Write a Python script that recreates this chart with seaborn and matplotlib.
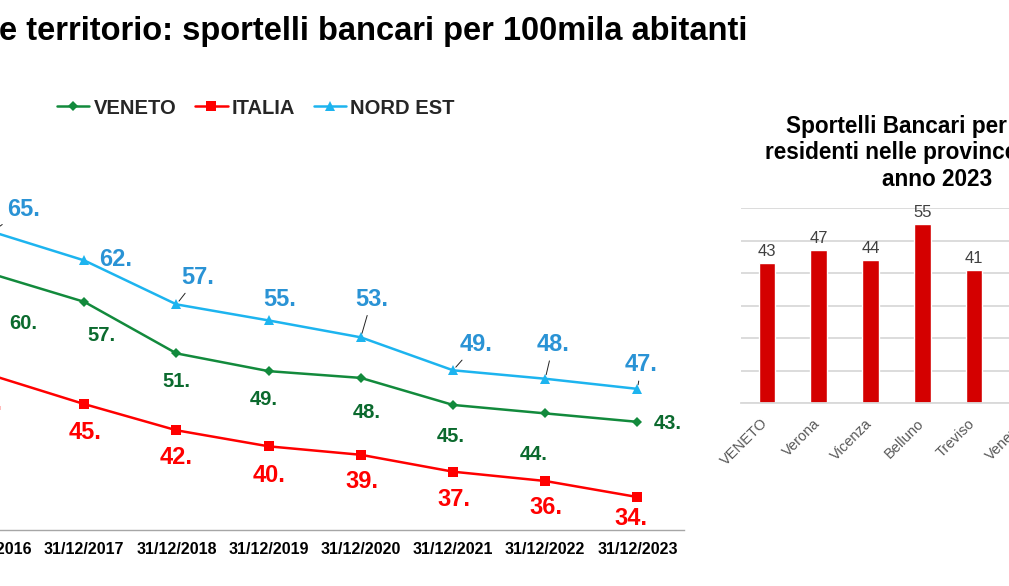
import numpy as np
import pandas as pd
import matplotlib
matplotlib.use("Agg")
import matplotlib.pyplot as plt
import matplotlib.transforms as mtransforms
import seaborn as sns

# --- data ---
years = ['31/12/2016', '31/12/2017', '31/12/2018', '31/12/2019',
         '31/12/2020', '31/12/2021', '31/12/2022', '31/12/2023']
veneto = [60.8, 57.5, 51.4, 49.3, 48.5, 45.3, 44.3, 43.3]
italia = [48.8, 45.4, 42.3, 40.4, 39.4, 37.4, 36.3, 34.4]
nord_est = [65.8, 62.4, 57.2, 55.3, 53.3, 49.4, 48.4, 47.2]

province_names = ['VENETO', 'Verona', 'Vicenza', 'Belluno', 'Treviso', 'Venezia']
province_values = [43, 47, 44, 55, 41]

# label offsets in pixels (dx, dy) relative to each point
off_ne = [(31, 22), (31, 1), (21, 27), (11, 21), (11, 38), (23, 26), (8, 34), (4, 24)]
lead_ne = [True, False, True, False, True, True, True, True]
off_ve = [(31, -50), (17, -34), (0, -28), (-5, -28), (6, -35), (-2, -32), (-12, -41), (30, -2)]
off_it = [(-6, -28), (1, -28), (0, -27), (0, -29), (1, -27), (1, -28), (1, -27), (-6, -21)]

sns.set_theme(style="white")
plt.rcParams['font.family'] = ['Liberation Sans', 'DejaVu Sans']

W, H = 1009, 586
fig = plt.figure(figsize=(W / 100, H / 100), dpi=100)
fig.patch.set_facecolor('white')

green_line, green_txt = '#128a3c', '#0b6a2e'
red = '#ff0000'
blue_line, blue_txt = '#1db4ef', '#2a93d5'

# ---------------- left line chart ----------------
ax = fig.add_axes([-54 / W, (H - 530) / H, 737.5 / W, 338 / H])
df = pd.DataFrame({'anno': years, 'VENETO': veneto, 'ITALIA': italia, 'NORD EST': nord_est})

sns.lineplot(data=df, x='anno', y='VENETO', ax=ax, color=green_line, marker='D',
             markersize=5.5, markeredgewidth=0, linewidth=1.8, label='VENETO')
sns.lineplot(data=df, x='anno', y='ITALIA', ax=ax, color=red, marker='s',
             markersize=6.5, markeredgewidth=0, linewidth=1.8, label='ITALIA')
sns.lineplot(data=df, x='anno', y='NORD EST', ax=ax, color=blue_line, marker='^',
             markersize=7.5, markeredgewidth=0, linewidth=1.8, label='NORD EST')

ax.set_xlim(-0.5, len(years) - 0.5)
ax.set_ylim(30.5, 70.5)
ax.set_xlabel('')
ax.set_ylabel('')
ax.set_yticks([])
for s in ['left', 'right', 'top']:
    ax.spines[s].set_visible(False)
ax.spines['bottom'].set_color('#a6a6a6')
ax.spines['bottom'].set_linewidth(1.0)
ax.tick_params(axis='x', length=0, pad=9, labelsize=11.5, labelcolor='black')
for t in ax.get_xticklabels():
    t.set_fontweight('bold')

for i in range(len(years)):
    ax.annotate(f"{int(nord_est[i])}.", xy=(i, nord_est[i]), xytext=off_ne[i],
                textcoords='offset pixels', ha='center', va='center',
                fontsize=17, fontweight='bold', color=blue_txt,
                arrowprops=dict(arrowstyle='-', color='#222222', lw=0.7,
                                shrinkA=1, shrinkB=3) if lead_ne[i] else None)
    ax.annotate(f"{int(veneto[i])}.", xy=(i, veneto[i]), xytext=off_ve[i],
                textcoords='offset pixels', ha='center', va='center',
                fontsize=14.5, fontweight='bold', color=green_txt)
    ax.annotate(f"{int(italia[i])}.", xy=(i, italia[i]), xytext=off_it[i],
                textcoords='offset pixels', ha='center', va='center',
                fontsize=17, fontweight='bold', color=red)

handles, labels = ax.get_legend_handles_labels()
ax.get_legend().remove()
fig.legend(handles, labels, loc='center', bbox_to_anchor=(256 / W, (H - 108) / H),
           ncol=3, frameon=False, handlelength=1.6, handletextpad=0.2,
           columnspacing=0.95, prop={'weight': 'bold', 'size': 14.5})

fig.text(-1 / W, (H - 40) / H, 'e territorio: sportelli bancari per 100mila abitanti',
         ha='left', va='baseline', fontsize=23.5, fontweight='bold', color='black')

# ---------------- right bar chart ----------------
ax2 = fig.add_axes([741 / W, (H - 403) / H, 8 * 51.8 / W, 195 / H])
sns.barplot(x=province_names[:len(province_values)], y=province_values, ax=ax2,
            color='#d40000', width=0.32, saturation=1)
ax2.set_xlim(-0.5, 7.5)
ax2.set_ylim(0, 60)
ax2.set_yticks(range(0, 61, 10))
ax2.set_yticklabels([])
ax2.yaxis.grid(True, color='#d9d9d9', linewidth=1.3)
ax2.set_axisbelow(True)
for s in ['left', 'right', 'top']:
    ax2.spines[s].set_visible(False)
ax2.spines['bottom'].set_color('#d9d9d9')
ax2.spines['bottom'].set_linewidth(1.3)
ax2.set_xticks(range(len(province_names)))
ax2.set_xticklabels(province_names, rotation=45, ha='right', rotation_mode='anchor',
                    fontsize=10.5, color='#595959')
ax2.tick_params(axis='x', length=0, pad=8)
ax2.tick_params(axis='y', length=0)
shift = mtransforms.ScaledTranslation(-6 / 100, -2 / 100, fig.dpi_scale_trans)
for t in ax2.get_xticklabels():
    t.set_transform(t.get_transform() + shift)
ax2.set_xlabel('')
ax2.set_ylabel('')
for c in ax2.containers:
    ax2.bar_label(c, fmt='%d', padding=3, fontsize=12, color='#404040')

title_lines = ['Sportelli Bancari per 100mila', 'residenti nelle province venete', 'anno 2023']
title_x = [786, 765, 882]
for k, line in enumerate(title_lines):
    fig.text(title_x[k] / W, (H - 133 - 26.5 * k) / H, line, ha='left', va='baseline',
             fontsize=16.3, fontweight='bold', color='black')

fig.savefig('out.png', dpi=100, facecolor='white')
